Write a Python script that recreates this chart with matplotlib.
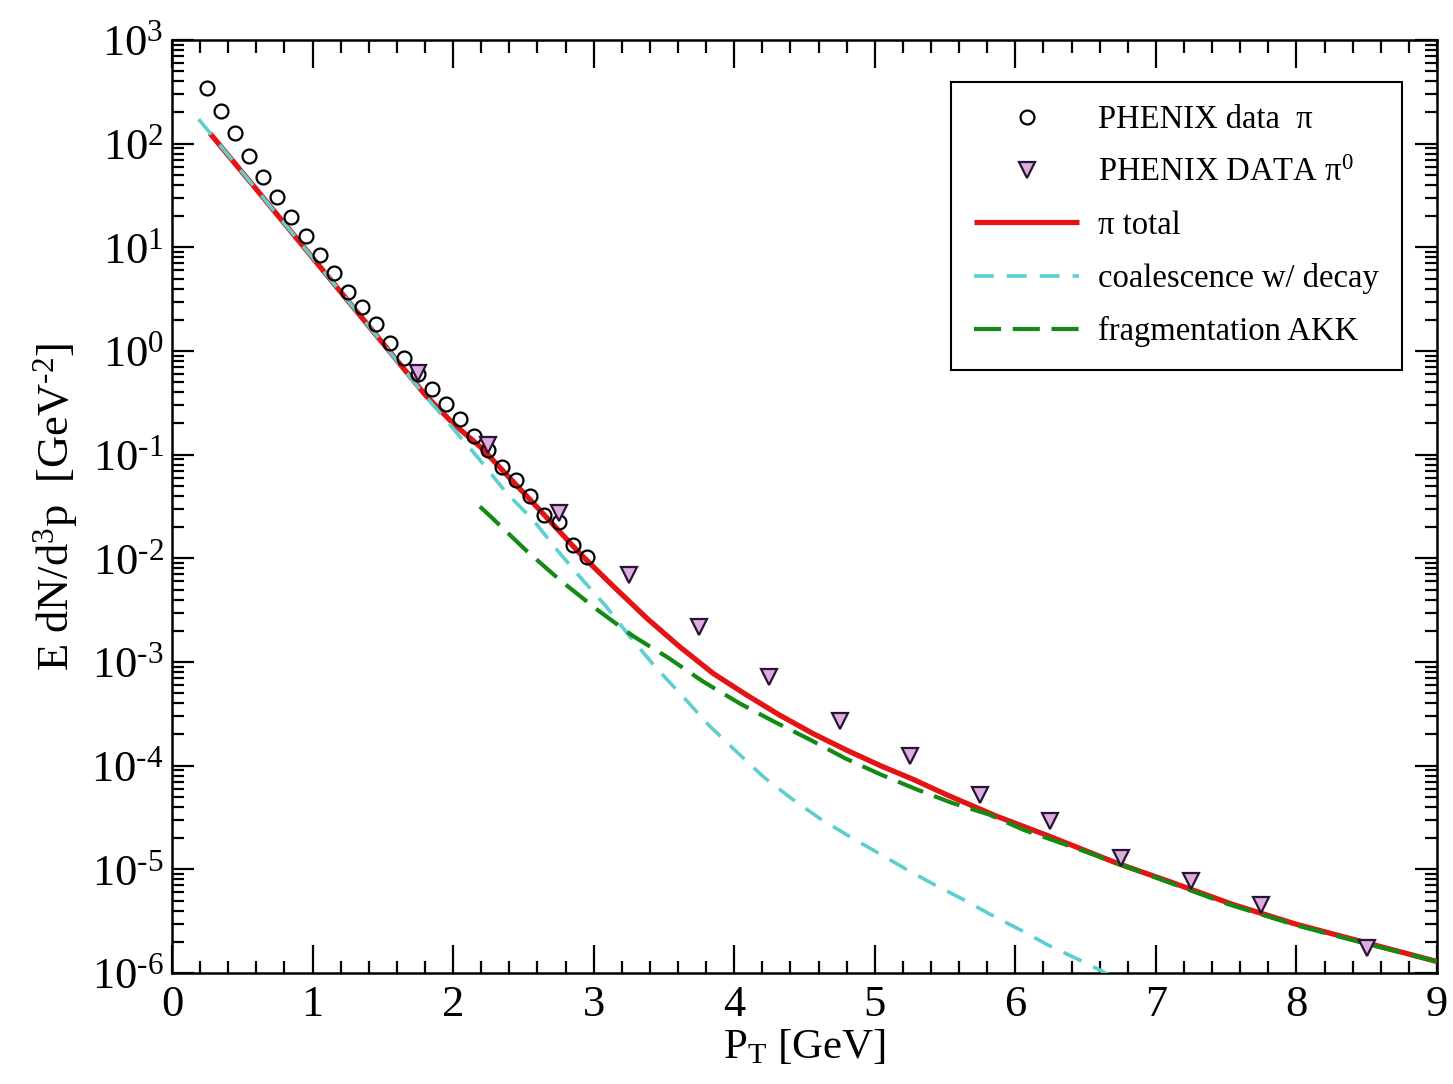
import matplotlib
matplotlib.use("Agg")
import matplotlib.pyplot as plt
from matplotlib.ticker import MultipleLocator, LogLocator, FixedLocator, NullFormatter

plt.rcParams['font.family'] = ['Liberation Serif', 'DejaVu Serif']
plt.rcParams['mathtext.fontset'] = 'custom'
plt.rcParams['mathtext.rm'] = 'Liberation Serif'
plt.rcParams['mathtext.it'] = 'Liberation Serif:italic'
plt.rcParams['mathtext.bf'] = 'Liberation Serif:bold'
plt.rcParams['axes.unicode_minus'] = False

# ---- data ----
pi_pt = [0.25, 0.35, 0.45, 0.55, 0.65, 0.75, 0.85, 0.95, 1.05, 1.15, 1.25, 1.35,
         1.45, 1.55, 1.65, 1.75, 1.85, 1.95, 2.05, 2.15, 2.25, 2.35, 2.45, 2.55,
         2.65, 2.75, 2.85, 2.95]
pi_val = [342, 208, 126, 76.0, 47.4, 30.8, 19.8, 13.0, 8.45, 5.62, 3.69, 2.68,
          1.81, 1.19, 0.863, 0.603, 0.429, 0.309, 0.220, 0.150, 0.110, 0.0767,
          0.0571, 0.0403, 0.0263, 0.0224, 0.0135, 0.0104]

pi0_pt = [1.75, 2.25, 2.75, 3.25, 3.75, 4.25, 4.75, 5.25, 5.75, 6.25, 6.75, 7.25, 7.75, 8.5]
pi0_val = [0.615, 0.124, 0.0273, 0.00693, 0.00217, 7.14e-4, 2.67e-4, 1.245e-4,
           5.24e-5, 2.90e-5, 1.285e-5, 7.66e-6, 4.56e-6, 1.74e-6]

total_pt = [0.27, 0.6, 1.0, 1.4, 1.8, 2.0, 2.2, 2.6, 2.9, 3.14, 3.38, 3.61, 3.85,
            4.09, 4.32, 4.56, 4.8, 5.04, 5.27, 5.51, 5.87, 6.24, 6.72, 7.1, 7.55,
            8.0, 8.5, 9.0]
total_val = [125.9, 36.3, 7.94, 1.74, 0.380, 0.200, 0.117, 0.0309, 0.0112, 0.00537,
             0.00263, 0.00141, 7.76e-4, 4.79e-4, 3.09e-4, 2.04e-4, 1.41e-4, 1.0e-4,
             7.41e-5, 5.25e-5, 3.24e-5, 2.09e-5, 1.15e-5, 7.59e-6, 4.57e-6, 2.95e-6,
             1.95e-6, 1.29e-6]

coal_pt = [0.19, 0.6, 1.0, 1.4, 1.8, 2.19, 2.38, 2.57, 2.74, 2.90, 3.08, 3.26, 3.44,
           3.64, 3.82, 4.02, 4.21, 4.41, 4.62, 4.83, 5.02, 5.225, 5.427, 5.628, 5.83,
           6.03, 6.233, 6.434, 6.6, 6.75]
coal_val = [172, 36.3, 7.94, 1.74, 0.372, 0.0891, 0.0427, 0.0234, 0.0120, 0.00668,
            0.00355, 0.00174, 8.91e-4, 4.57e-4, 2.45e-4, 1.35e-4, 7.76e-5, 4.79e-5,
            3.02e-5, 2.04e-5, 1.45e-5, 1.0e-5, 7.08e-6, 5.13e-6, 3.63e-6, 2.63e-6,
            1.86e-6, 1.38e-6, 1.07e-6, 8.3e-7]

frag_pt = [2.19, 2.27, 2.52, 2.76, 3.03, 3.28, 3.53, 3.78, 4.04, 4.29, 4.54, 4.79,
           5.05, 5.30, 5.55, 5.81, 6.06, 6.5, 7.0, 7.5, 8.0, 8.5, 9.0]
frag_val = [0.0316, 0.0251, 0.0119, 0.00617, 0.00316, 0.00178, 0.00110, 6.46e-4,
            3.98e-4, 2.63e-4, 1.78e-4, 1.175e-4, 8.13e-5, 5.89e-5, 4.37e-5, 3.39e-5,
            2.40e-5, 1.48e-5, 8.32e-6, 4.68e-6, 2.88e-6, 1.91e-6, 1.29e-6]

x_ticks = [0, 1, 2, 3, 4, 5, 6, 7, 8, 9]
y_exps = [-6, -5, -4, -3, -2, -1, 0, 1, 2, 3]

labels = ["PHENIX data  \u03c0", "PHENIX DATA \u03c0$^{0}$", "\u03c0 total",
          "coalescence w/ decay", "fragmentation AKK"]


def exp_label(e):
    s = str(e)
    if e < 0:
        s = r'\text{-}' + str(-e)
    return r'$10^{%s}$' % s


# ---- figure ----
fig = plt.figure(figsize=(14.53, 10.84), dpi=100)
ax = fig.add_axes([172 / 1453, 1 - 973 / 1084, (1437 - 172) / 1453, (973 - 40) / 1084])

ax.plot(total_pt, total_val, color='#e41414', lw=3.8, solid_capstyle='butt',
        solid_joinstyle='round', label=labels[2], zorder=3)
ax.plot(coal_pt, coal_val, color='#5ccfcf', lw=2.6, dashes=(5.5, 3.6),
        label=labels[3], zorder=4)
ax.plot(frag_pt, frag_val, color='#138a13', lw=3.0, dashes=(6.5, 2.8),
        label=labels[4], zorder=4)
ax.plot(pi_pt, pi_val, ls='none', marker='o', ms=10, mfc='none', mec='black',
        mew=1.6, label=labels[0], zorder=5)
ax.plot(pi0_pt, pi0_val, ls='none', marker='v', ms=12, mfc='#dcaedc', mec='#2a1238',
        mew=1.6, label=labels[1], zorder=6)

ax.set_yscale('log')
ax.set_xlim(0, 9)
ax.set_ylim(1e-6, 1e3)

ax.xaxis.set_major_locator(FixedLocator(x_ticks))
ax.set_xticklabels([str(t) for t in x_ticks])
ax.xaxis.set_minor_locator(MultipleLocator(0.2))
ax.yaxis.set_major_locator(FixedLocator([10.0 ** e for e in y_exps]))
ax.set_yticklabels([exp_label(e) for e in y_exps])
ax.yaxis.set_minor_locator(LogLocator(base=10, subs=[2, 3, 4, 5, 6, 7, 8, 9], numticks=30))
ax.yaxis.set_minor_formatter(NullFormatter())

for sp in ax.spines.values():
    sp.set_linewidth(1.8)

ax.tick_params(axis='both', which='both', direction='in', top=True, right=True,
               width=1.6, labelsize=32)
ax.tick_params(axis='x', which='major', length=20, pad=9)
ax.tick_params(axis='x', which='minor', length=9)
ax.tick_params(axis='y', which='major', length=16, pad=6)
ax.tick_params(axis='y', which='minor', length=8.5)

ax.set_xlabel(r'P$_{\mathrm{T}}$ [GeV]', fontsize=31, labelpad=2)
ax.set_ylabel(r'E dN/d$^{3}$p  [GeV$^{\text{-}2}$]', fontsize=32, labelpad=8)

handles, labs = ax.get_legend_handles_labels()
order = [labs.index(l) for l in labels]
leg = ax.legend([handles[i] for i in order], [labs[i] for i in order],
                loc='upper right', bbox_to_anchor=(0.9723, 0.955), fontsize=23.5,
                frameon=True, fancybox=False, edgecolor='black', framealpha=1,
                handlelength=3.2, handletextpad=0.6, labelspacing=0.68,
                borderpad=0.7, borderaxespad=0)
leg.get_frame().set_linewidth(1.5)

fig.savefig('out.png', dpi=100)
